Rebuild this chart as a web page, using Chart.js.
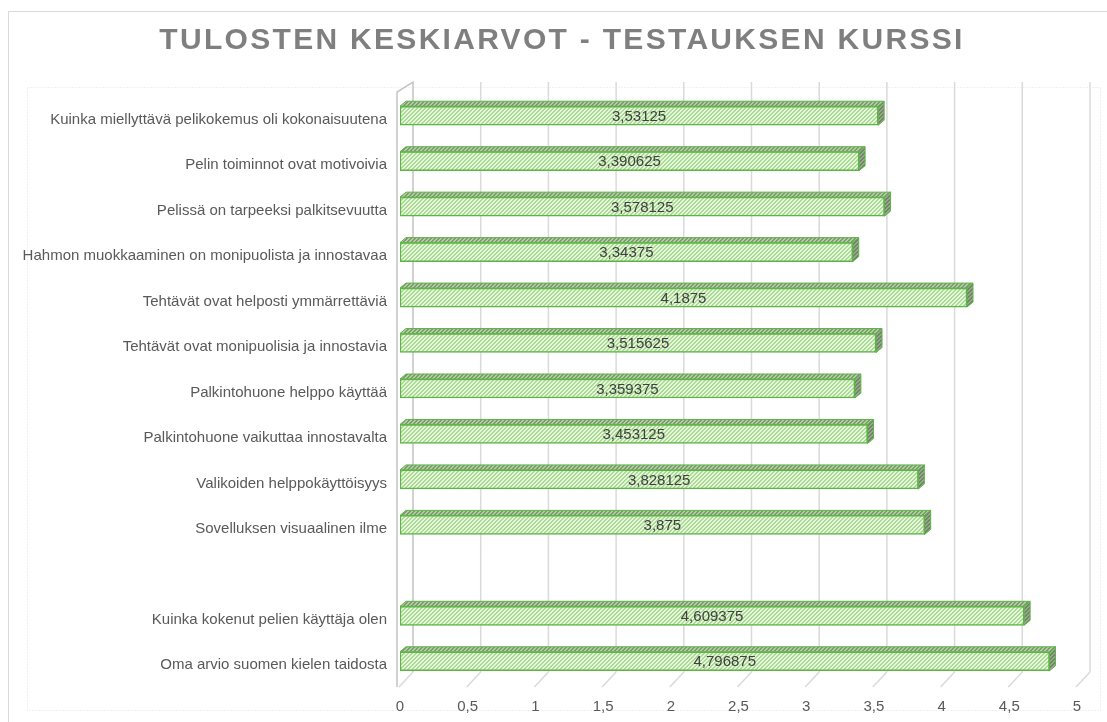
<!DOCTYPE html>
<html>
<head>
<meta charset="utf-8">
<title>Tulosten keskiarvot</title>
<script src="https://cdn.jsdelivr.net/npm/chart.js@4"></script>
<style>
  html, body { margin: 0; padding: 0; background: #fff; }
  #wrap { width: 1107px; height: 722px; }
</style>
</head>
<body>
<div id="wrap"><canvas id="myChart" width="1107" height="722"></canvas></div>
<script>
var otsikko = "TULOSTEN KESKIARVOT - TESTAUKSEN KURSSI";
var kysymykset = [
  "Kuinka miellyttävä pelikokemus oli kokonaisuutena",
  "Pelin toiminnot ovat motivoivia",
  "Pelissä on tarpeeksi palkitsevuutta",
  "Hahmon muokkaaminen on monipuolista ja innostavaa",
  "Tehtävät ovat helposti ymmärrettäviä",
  "Tehtävät ovat monipuolisia ja innostavia",
  "Palkintohuone helppo käyttää",
  "Palkintohuone vaikuttaa innostavalta",
  "Valikoiden helppokäyttöisyys",
  "Sovelluksen visuaalinen ilme",
  "",
  "Kuinka kokenut pelien käyttäja olen",
  "Oma arvio suomen kielen taidosta"
];
var keskiarvot = [3.53125, 3.390625, 3.578125, 3.34375, 4.1875, 3.515625, 3.359375, 3.453125, 3.828125, 3.875, null, 4.609375, 4.796875];
var xTikit = [0, 0.5, 1, 1.5, 2, 2.5, 3, 3.5, 4, 4.5, 5];

var fontti = "'Liberation Sans', Arial, sans-serif";
var ctx = document.getElementById('myChart').getContext('2d');

// vinoviivakuvio palkkeihin
function kuvio(tumma, vaalea) {
  var c = document.createElement('canvas');
  c.width = 4; c.height = 4;
  var g = c.getContext('2d');
  for (var x = 0; x < 4; x++) {
    for (var y = 0; y < 4; y++) {
      g.fillStyle = ((x + y) % 4 < 2) ? tumma : vaalea;
      g.fillRect(x, y, 1, 1);
    }
  }
  return ctx.createPattern(c, 'repeat');
}
var etuKuvio = kuvio('#a9db90', '#e8f6e1');
var ylaKuvio = kuvio('#7e9a6f', '#b3cca6');
var sivuKuvio = kuvio('#6f8565', '#95a98a');
var reuna = '#5cb545';
var syvX = 6, syvY = 5;     // 3D syvyys palkeissa
var takaX = 15;             // takaseinän siirto

function pilkku(v) { return String(v).replace('.', ','); }

// tausta, kehykset ja otsikko
var kehys = {
  id: 'kehys',
  beforeDraw: function(chart) {
    var c = chart.ctx;
    c.save();
    c.fillStyle = '#fff';
    c.fillRect(0, 0, chart.width, chart.height);
    c.strokeStyle = '#d9d9d9';
    c.lineWidth = 1;
    c.strokeRect(8.5, 11.5, 1120, 740);
    c.setLineDash([1, 2]);
    c.strokeStyle = '#e2e2e2';
    c.strokeRect(27.5, 87.5, 1073, 623);
    c.setLineDash([]);
    c.fillStyle = '#7f7f7f';
    c.font = "bold 30px " + fontti;
    c.letterSpacing = '2.3px';
    c.textAlign = 'center';
    c.textBaseline = 'middle';
    c.fillText(otsikko, 562, 41);
    c.restore();
  }
};

// takaseinän ruudukko, vasen seinä ja lattian viivat
var seinat = {
  id: 'seinat',
  beforeDatasetsDraw: function(chart) {
    var c = chart.ctx, xs = chart.scales.x, a = chart.chartArea;
    var ylä = a.top - 11, ala = a.bottom - 12;
    c.save();
    c.strokeStyle = '#dadada';
    c.lineWidth = 1.5;
    xTikit.forEach(function(v, i) {
      var xf = xs.getPixelForValue(v) - 2;
      c.beginPath();
      if (i > 0) {
        c.moveTo(xf + takaX, ylä);
        c.lineTo(xf + takaX, ala);
      }
      c.moveTo(xf + takaX, ala);
      c.lineTo(xf + 1, ala + takaX);
      c.stroke();
    });
    // vasen seinä
    var x0 = xs.getPixelForValue(0) - 3;
    c.strokeStyle = '#c4c4c4';
    c.beginPath();
    c.moveTo(x0, ala + takaX);
    c.lineTo(x0, ylä + 10);
    c.lineTo(x0 + takaX + 1, ylä);
    c.lineTo(x0 + takaX + 1, ala);
    c.stroke();
    c.restore();
  }
};

// palkkien ylä- ja sivupinnat sekä arvot
var kolmeD = {
  id: 'kolmeD',
  afterDatasetsDraw: function(chart) {
    var c = chart.ctx;
    var meta = chart.getDatasetMeta(0);
    c.save();
    meta.data.forEach(function(el, i) {
      if (keskiarvot[i] == null) return;
      var p = el.getProps(['x', 'y', 'base', 'height'], true);
      var yl = p.y - p.height / 2, al = p.y + p.height / 2;
      c.lineWidth = 1;
      c.strokeStyle = reuna;
      c.fillStyle = ylaKuvio;
      c.beginPath();
      c.moveTo(p.base, yl);
      c.lineTo(p.x, yl);
      c.lineTo(p.x + syvX, yl - syvY);
      c.lineTo(p.base + syvX, yl - syvY);
      c.closePath();
      c.fill();
      c.stroke();
      c.fillStyle = sivuKuvio;
      c.beginPath();
      c.moveTo(p.x, yl);
      c.lineTo(p.x + syvX, yl - syvY);
      c.lineTo(p.x + syvX, al - syvY);
      c.lineTo(p.x, al);
      c.closePath();
      c.fill();
      c.stroke();
    });
    c.fillStyle = '#404040';
    c.font = "15px " + fontti;
    c.textAlign = 'center';
    c.textBaseline = 'middle';
    meta.data.forEach(function(el, i) {
      if (keskiarvot[i] == null) return;
      var p = el.getProps(['x', 'y', 'base'], true);
      c.fillText(pilkku(keskiarvot[i]), (p.base + p.x) / 2, p.y + 1);
    });
    c.restore();
  }
};

var chart = new Chart(ctx, {
  type: 'bar',
  data: {
    labels: kysymykset,
    datasets: [{
      data: keskiarvot,
      backgroundColor: etuKuvio,
      borderColor: reuna,
      borderWidth: 1.5,
      borderSkipped: false,
      barThickness: 19
    }]
  },
  options: {
    indexAxis: 'y',
    responsive: false,
    animation: false,
    devicePixelRatio: 1,
    layout: { padding: { top: 93, right: 30, bottom: 0, left: 0 } },
    plugins: {
      legend: { display: false },
      title: { display: false },
      tooltip: { enabled: false }
    },
    scales: {
      x: {
        min: 0,
        max: 5,
        grid: { display: false },
        border: { display: false },
        afterFit: function(s) { s.height = 38; },
        afterBuildTicks: function(s) {
          s.ticks = xTikit.map(function(v) { return { value: v }; });
        },
        ticks: {
          padding: 6,
          color: '#595959',
          font: { family: fontti, size: 15 },
          maxRotation: 0,
          autoSkip: false,
          callback: function(v) { return pilkku(v); }
        }
      },
      y: {
        grid: { display: false },
        border: { display: false },
        afterFit: function(s) { s.width = 400; },
        ticks: {
          padding: 5,
          labelOffset: 4,
          color: '#595959',
          font: { family: fontti, size: 15 },
          autoSkip: false
        }
      }
    }
  },
  plugins: [kehys, seinat, kolmeD]
});
</script>
</body>
</html>
